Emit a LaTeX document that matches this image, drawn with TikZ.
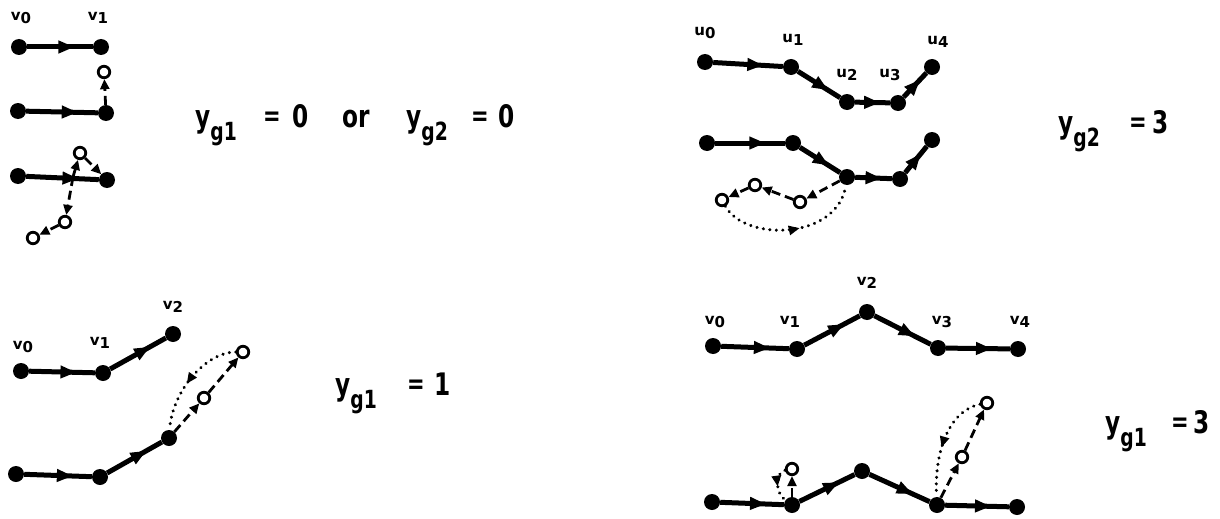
\documentclass[tikz,border=0pt]{standalone}
\usepackage{fontspec}
\setmainfont{DejaVu Sans}
\newfontfamily\cndfont{DejaVu Sans}[FakeStretch=0.75]
\usetikzlibrary{arrows.meta,decorations.markings}
\newcommand{\ysb}[1]{\raisebox{-0.45em}{\fontsize{25}{25}\selectfont #1}}
\newcommand{\vsb}[1]{\raisebox{-0.25em}{#1}}
\tikzset{
  vtx/.style={circle,fill=black,inner sep=0pt,minimum size=16pt},
  ovtx/.style={circle,draw=black,fill=white,line width=2.8pt,inner sep=0pt,minimum size=11.5pt},
  pathedge/.style={line width=5pt,postaction={decorate},
    decoration={markings,mark=at position 0.72 with {\arrow{Triangle[length=16pt,width=12pt]}}}},
  dashedge/.style={line width=2.8pt,dash pattern=on 9pt off 5pt,-{Triangle[length=10pt,width=9pt]}},
  dotedge/.style={line width=3.4pt,dash pattern=on 0.01pt off 6.5pt,line cap=round,postaction={decorate},
    decoration={markings,mark=at position 0.55 with {\arrow{Triangle[length=11pt,width=9pt]}}}},
  vlab/.style={font=\bfseries\fontsize{15}{15}\selectfont,inner sep=0pt},
  biglab/.style={font=\cndfont\bfseries\fontsize{31}{31}\selectfont,inner sep=0pt,anchor=base west},
  eqlab/.style={font=\cndfont\bfseries\fontsize{28}{28}\selectfont,inner sep=0pt,anchor=base west},
}
\begin{document}
\begin{tikzpicture}[x=1pt,y=-1pt]
\useasboundingbox (0,0) rectangle (1220,519);
% ---------- panel A ----------
\node[vlab] (la0) at (21,18) {v\vsb{0}};
\node[vlab] (la1) at (98,18) {v\vsb{1}};
\node[vtx] (a0) at (19,47) {};
\node[vtx] (a1) at (101,47) {};
\draw[pathedge] (a0) -- (a1);
\node[vtx] (b0) at (18,111) {};
\node[vtx] (b1) at (106,113) {};
\node[ovtx] (bc) at (104,72) {};
\draw[pathedge] (b0) -- (b1);
\draw[dashedge] (b1) -- (bc);
\node[vtx] (c0) at (18,176) {};
\node[vtx] (c1) at (107,180) {};
\draw[pathedge] (c0) -- (c1);
\coordinate (cm) at (73,177);
\node[ovtx] (cc1) at (80,153) {};
\node[ovtx] (cc2) at (65,222) {};
\node[ovtx] (cc3) at (33,238) {};
\draw[dashedge] (cm) -- (cc1);
\draw[dashedge] (cc1) -- (c1);
\draw[dashedge] (cm) -- (cc2);
\draw[dashedge] (cc2) -- (cc3);
\node[biglab] (t1a) at (195,127) {y\ysb{g1}};
\node[eqlab] (t1b) at (263,125) {=};
\node[biglab] (t1c) at (292,127) {0};
\node[biglab] (t1d) at (342,127) {or};
\node[biglab] (t1e) at (406,127) {y\ysb{g2}};
\node[eqlab] (t1f) at (471,125) {=};
\node[biglab] (t1g) at (498,127) {0};
% ---------- panel B ----------
\node[vlab] (lb0) at (23,347) {v\vsb{0}};
\node[vlab] (lb1) at (100,343) {v\vsb{1}};
\node[vlab] (lb2) at (173,307) {v\vsb{2}};
\node[vtx] (d0) at (21,371) {};
\node[vtx] (d1) at (103,373) {};
\node[vtx] (d2) at (173,334) {};
\draw[pathedge] (d0) -- (d1);
\draw[pathedge] (d1) -- (d2);
\node[vtx] (e0) at (16,474) {};
\node[vtx] (e1) at (100,477) {};
\node[vtx] (e2) at (169,438) {};
\draw[pathedge] (e0) -- (e1);
\draw[pathedge] (e1) -- (e2);
\node[ovtx] (ec1) at (204,398) {};
\node[ovtx] (ec2) at (243,352) {};
\draw[dashedge] (e2) -- (ec1);
\draw[dashedge] (ec1) -- (ec2);
\draw[dotedge] (ec2) .. controls (205,352) and (172,392) .. (e2);
\node[biglab] (t2a) at (335,395) {y\ysb{g1}};
\node[eqlab] (t2b) at (407,393) {=};
\node[biglab] (t2c) at (434,395) {1};
% ---------- panel C ----------
\node[vlab] (lc0) at (705,33) {u\vsb{0}};
\node[vlab] (lc1) at (793,40) {u\vsb{1}};
\node[vlab] (lc2) at (847,75) {u\vsb{2}};
\node[vlab] (lc3) at (890,75) {u\vsb{3}};
\node[vlab] (lc4) at (938,42) {u\vsb{4}};
\node[vtx] (f0) at (705,62) {};
\node[vtx] (f1) at (791,67) {};
\node[vtx] (f2) at (847,102) {};
\node[vtx] (f3) at (898,103) {};
\node[vtx] (f4) at (932,67) {};
\draw[pathedge] (f0) -- (f1);
\draw[pathedge] (f1) -- (f2);
\draw[pathedge] (f2) -- (f3);
\draw[pathedge] (f3) -- (f4);
\node[vtx] (g0) at (707,143) {};
\node[vtx] (g1) at (793,143) {};
\node[vtx] (g2) at (847,177) {};
\node[vtx] (g3) at (900,179) {};
\node[vtx] (g4) at (932,140) {};
\draw[pathedge] (g0) -- (g1);
\draw[pathedge] (g1) -- (g2);
\draw[pathedge] (g2) -- (g3);
\draw[pathedge] (g3) -- (g4);
\node[ovtx] (gc1) at (800,202) {};
\node[ovtx] (gc2) at (755,185) {};
\node[ovtx] (gc3) at (722,200) {};
\draw[dashedge] (g2) -- (gc1);
\draw[dashedge] (gc1) -- (gc2);
\draw[dashedge] (gc2) -- (gc3);
\draw[dotedge] (gc3) .. controls (745,242) and (838,240) .. (g2);
\node[biglab] (t3a) at (1058,133) {y\ysb{g2}};
\node[eqlab] (t3b) at (1129,131) {=};
\node[biglab] (t3c) at (1152,133) {3};
% ---------- panel D ----------
\node[vlab] (ld0) at (715,322) {v\vsb{0}};
\node[vlab] (ld1) at (790,322) {v\vsb{1}};
\node[vlab] (ld2) at (867,283) {v\vsb{2}};
\node[vlab] (ld3) at (942,322) {v\vsb{3}};
\node[vlab] (ld4) at (1020,322) {v\vsb{4}};
\node[vtx] (h0) at (713,346) {};
\node[vtx] (h1) at (797,349) {};
\node[vtx] (h2) at (867,312) {};
\node[vtx] (h3) at (938,348) {};
\node[vtx] (h4) at (1018,349) {};
\draw[pathedge] (h0) -- (h1);
\draw[pathedge] (h1) -- (h2);
\draw[pathedge] (h2) -- (h3);
\draw[pathedge] (h3) -- (h4);
\node[vtx] (i0) at (712,502) {};
\node[vtx] (i1) at (792,505) {};
\node[vtx] (i2) at (862,471) {};
\node[vtx] (i3) at (937,505) {};
\node[vtx] (i4) at (1017,507) {};
\draw[pathedge] (i0) -- (i1);
\draw[pathedge] (i1) -- (i2);
\draw[pathedge] (i2) -- (i3);
\draw[pathedge] (i3) -- (i4);
\node[ovtx] (ic1) at (792,469) {};
\node[ovtx] (ic2) at (962,457) {};
\node[ovtx] (ic3) at (987,403) {};
\draw[dashedge] (i1) -- (ic1);
\draw[dotedge] (ic1) .. controls (776,472) and (774,492) .. (i1);
\draw[dashedge] (i3) -- (ic2);
\draw[dashedge] (ic2) -- (ic3);
\draw[dotedge] (ic3) .. controls (950,410) and (934,450) .. (i3);
\node[biglab] (t4a) at (1105,433) {y\ysb{g1}};
\node[eqlab] (t4b) at (1171,431) {=};
\node[biglab] (t4c) at (1193,433) {3};
\end{tikzpicture}
\end{document}
